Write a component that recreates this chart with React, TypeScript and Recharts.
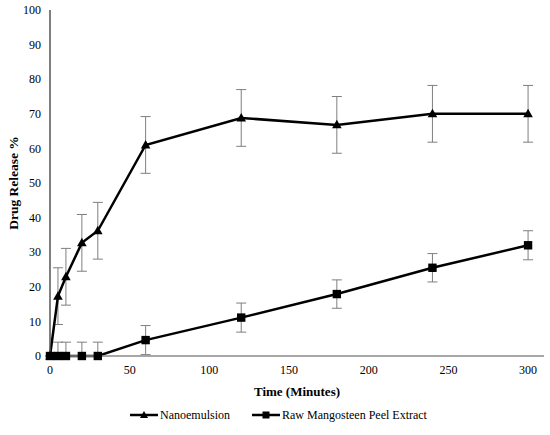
import { ErrorBar, Legend, Line, LineChart, XAxis, YAxis } from 'recharts';

const times = [0, 5, 10, 20, 30, 60, 120, 180, 240, 300];
const nanoemulsion = [0, 17.3, 22.9, 32.7, 36.2, 61.0, 68.8, 66.8, 70.0, 70.0];
const nanoErr = [0, 8.2, 8.2, 8.2, 8.2, 8.2, 8.2, 8.2, 8.2, 8.2];
const rawExtract = [0, 0, 0, 0, 0, 4.6, 11.1, 17.9, 25.5, 32.0];
const rawErrLow = [0, 0, 0, 0, 0, 4.2, 4.2, 4.1, 4.1, 4.2];
const rawErrHigh = [0, 4.0, 4.0, 4.0, 4.0, 4.2, 4.2, 4.1, 4.1, 4.2];
const xTicks = [0, 50, 100, 150, 200, 250, 300];
const yTicks = [0, 10, 20, 30, 40, 50, 60, 70, 80, 90, 100];

const chartData = times.map((t, i) => ({
  time: t,
  nano: nanoemulsion[i],
  nanoErr: nanoErr[i],
  raw: rawExtract[i],
  rawErr: [rawErrLow[i], rawErrHigh[i]],
}));

const FONT = "'Liberation Serif', 'Times New Roman', Times, serif";
const textStyle = { fontFamily: FONT };

function TriangleDot(props: any) {
  const { cx, cy, key } = props;
  if (cx == null || cy == null) return null;
  return <path key={key} d={`M${cx},${cy - 5} L${cx + 4.8},${cy + 3.5} L${cx - 4.8},${cy + 3.5} Z`} fill="#000" />;
}

function SquareDot(props: any) {
  const { cx, cy, key } = props;
  if (cx == null || cy == null) return null;
  return <rect key={key} x={cx - 4.2} y={cy - 4.2} width={8.4} height={8.4} fill="#000" />;
}

function XTick(props: any) {
  const { x, y, payload } = props;
  return (
    <text x={x} y={y + 10} textAnchor="middle" fontSize={12} fill="#000" style={textStyle}>
      {payload.value}
    </text>
  );
}

function YTick(props: any) {
  const { x, y, payload } = props;
  return (
    <text x={x - 1} y={y + 4.2} textAnchor="end" fontSize={12} fill="#000" style={textStyle}>
      {payload.value}
    </text>
  );
}

function LegendContent() {
  const y = 13;
  return (
    <svg width={550} height={33} style={{ display: 'block' }}>
      <line x1={130} x2={158} y1={y} y2={y} stroke="#000" strokeWidth={2.5} />
      <path d={`M144,${y - 4} L148,${y + 3} L140,${y + 3} Z`} fill="#000" />
      <text x={160} y={y + 4.2} fontSize={12} fill="#000" style={textStyle}>
        Nanoemulsion
      </text>
      <line x1={252} x2={280} y1={y} y2={y} stroke="#000" strokeWidth={2.5} />
      <rect x={262.5} y={y - 3.5} width={7} height={7} fill="#000" />
      <text x={282} y={y + 4.2} fontSize={12} fill="#000" style={textStyle}>
        Raw Mangosteen Peel Extract
      </text>
    </svg>
  );
}

export default function App() {
  return (
    <div style={{ position: 'absolute', left: 0, top: 0, width: 550, height: 435, background: '#fff', fontFamily: FONT }}>
      <LineChart width={550} height={435} data={chartData} margin={{ top: 10, right: 6, left: 0, bottom: 0 }}>
        <XAxis
          dataKey="time"
          type="number"
          domain={[0, 310]}
          ticks={xTicks}
          interval={0}
          tickLine={false}
          axisLine={{ stroke: '#8a8a8a', strokeWidth: 1.5 }}
          tick={<XTick />}
          height={46}
          label={{
            value: 'Time (Minutes)',
            position: 'insideBottom',
            offset: 6,
            fill: '#000',
            fontSize: 13,
            fontWeight: 'bold',
            style: textStyle,
          }}
        />
        <YAxis
          type="number"
          domain={[0, 100]}
          ticks={yTicks}
          interval={0}
          width={50}
          tickLine={false}
          axisLine={{ stroke: '#555', strokeWidth: 1.5 }}
          tick={<YTick />}
          label={{
            value: 'Drug Release %',
            angle: -90,
            position: 'insideLeft',
            offset: 13,
            style: { ...textStyle, textAnchor: 'middle' },
            fill: '#000',
            fontSize: 13.5,
            fontWeight: 'bold',
          }}
        />
        <Legend verticalAlign="bottom" content={<LegendContent />} wrapperStyle={{ left: 0, bottom: 0, height: 33 }} />
        <Line
          dataKey="nano"
          name="Nanoemulsion"
          type="linear"
          stroke="#000"
          strokeWidth={2.5}
          dot={TriangleDot}
          activeDot={false}
          isAnimationActive={false}
        >
          <ErrorBar dataKey="nanoErr" width={5} stroke="#7f7f7f" strokeWidth={1} direction="y" isAnimationActive={false} />
        </Line>
        <Line
          dataKey="raw"
          name="Raw Mangosteen Peel Extract"
          type="linear"
          stroke="#000"
          strokeWidth={2.5}
          dot={SquareDot}
          activeDot={false}
          isAnimationActive={false}
        >
          <ErrorBar dataKey="rawErr" width={5} stroke="#7f7f7f" strokeWidth={1} direction="y" isAnimationActive={false} />
        </Line>
      </LineChart>
    </div>
  );
}
